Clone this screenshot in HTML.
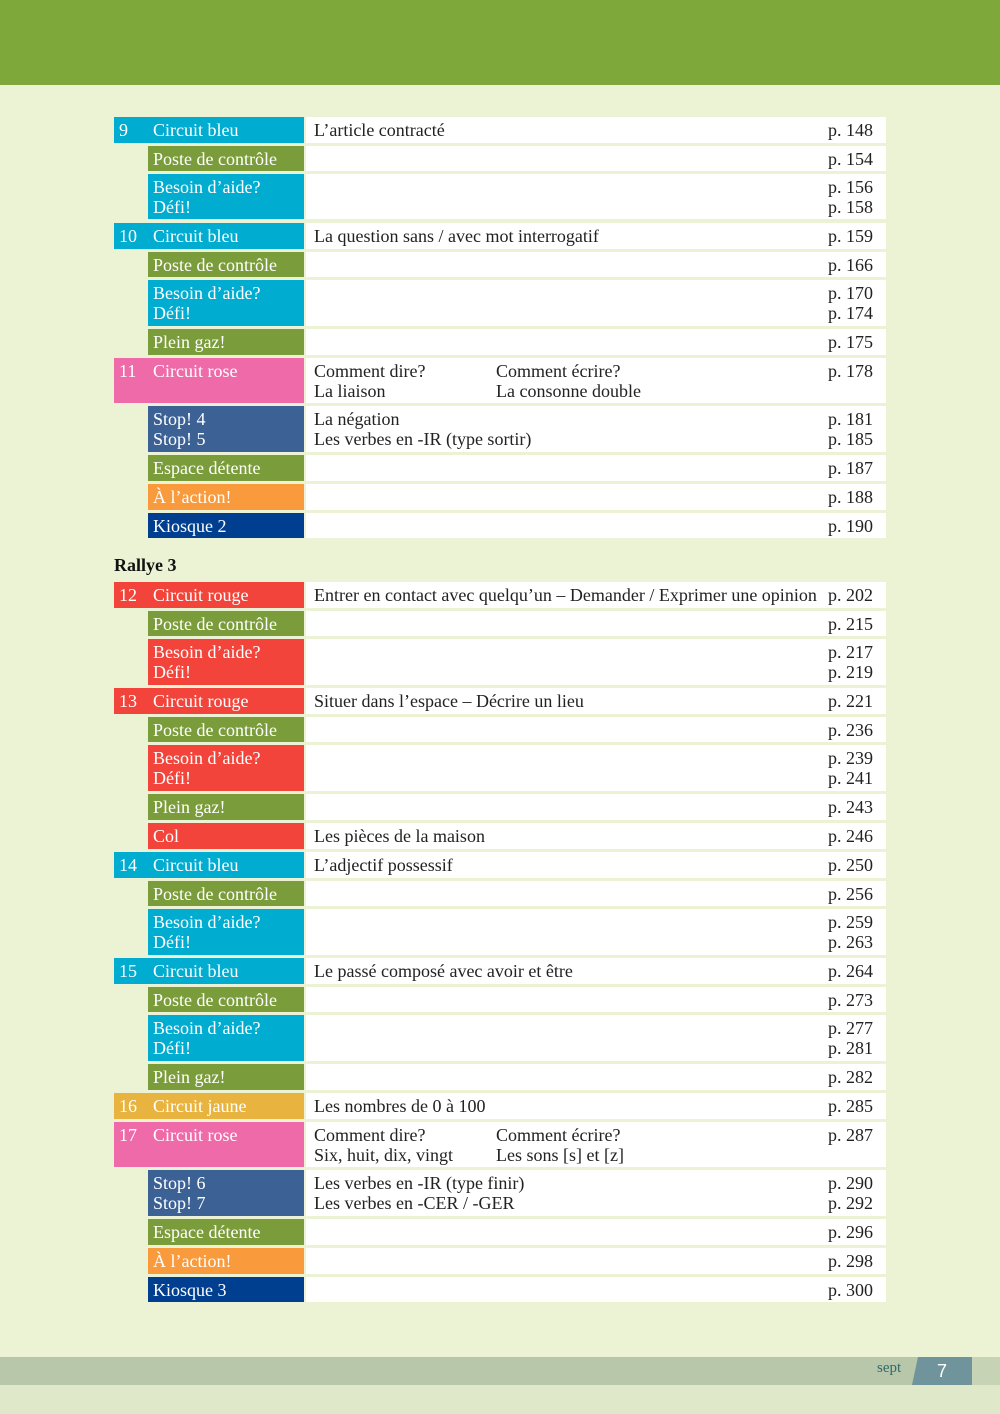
<!DOCTYPE html>
<html><head><meta charset="utf-8"><style>
body{margin:0;width:1000px;height:1414px;background:#ecf3d4;position:relative;overflow:hidden;font-family:"Liberation Serif",serif;font-size:18px;color:#222}
#topbar{position:absolute;left:0;top:0;width:1000px;height:85px;background:#7ea83a}
#bottom{position:absolute;left:0;top:1385px;width:1000px;height:29px;background:#dfe8c8}
.lab{position:absolute;color:#fff;box-sizing:border-box;padding:3px 0 0 5px;line-height:20px}
.num{position:absolute;left:5px;top:3px}
.mid{position:absolute;left:306px;width:580px;background:#fff;box-sizing:border-box;line-height:20px}
.t{position:absolute;left:8px;top:3px}
.t2{position:absolute;left:190px;top:3px}
.pg{position:absolute;left:522px;top:3px}
#rallye{position:absolute;left:114px;top:555px;font-weight:bold;font-size:18px;color:#111}
#footer{position:absolute;left:0;top:1357px;width:1000px;height:28px;background:#b8c7aa}
#sept{position:absolute;left:877px;top:1360px;color:#2f6a6a;font-size:15px}
#pbox{position:absolute;left:912px;top:1357px;width:60px;height:28px;background:#6f949c;clip-path:polygon(6px 0,100% 0,100% 100%,0 100%);color:#fff;font-family:"Liberation Sans",sans-serif;font-size:18px;text-align:center;line-height:28px}
#pright{position:absolute;left:972px;top:1357px;width:28px;height:28px;background:#c6d3b4}
</style></head><body>
<div id="topbar"></div>
<div id="rallye">Rallye 3</div>
<div id="footer"></div>
<div id="bottom"></div>
<div id="pright"></div>
<div id="sept">sept</div>
<div id="pbox">7</div>
<script>
const B='#00acd0',G='#7a9c3a',P='#ef6aa9',S='#3c6194',O='#f99a3c',K='#003f8f',R='#f2443a',Y='#e8b33e';
const rows=[
[117,26,'9','Circuit bleu',B,['L’article contracté'],null,['p. 148']],
[146,25,'','Poste de contrôle',G,[],null,['p. 154']],
[174,45,'','Besoin d’aide?<br>Défi!',B,[],null,['p. 156','p. 158']],
[223,26,'10','Circuit bleu',B,['La question sans / avec mot interrogatif'],null,['p. 159']],
[252,25,'','Poste de contrôle',G,[],null,['p. 166']],
[280,46,'','Besoin d’aide?<br>Défi!',B,[],null,['p. 170','p. 174']],
[329,26,'','Plein gaz!',G,[],null,['p. 175']],
[358,45,'11','Circuit rose',P,['Comment dire?','La liaison'],['Comment écrire?','La consonne double'],['p. 178']],
[406,46,'','Stop! 4<br>Stop! 5',S,['La négation','Les verbes en -IR (type sortir)'],null,['p. 181','p. 185']],
[455,26,'','Espace détente',G,[],null,['p. 187']],
[484,26,'','À l’action!',O,[],null,['p. 188']],
[513,25,'','Kiosque 2',K,[],null,['p. 190']],
[582,26,'12','Circuit rouge',R,['Entrer en contact avec quelqu’un – Demander / Exprimer une opinion'],null,['p. 202']],
[611,25,'','Poste de contrôle',G,[],null,['p. 215']],
[639,46,'','Besoin d’aide?<br>Défi!',R,[],null,['p. 217','p. 219']],
[688,26,'13','Circuit rouge',R,['Situer dans l’espace – Décrire un lieu'],null,['p. 221']],
[717,25,'','Poste de contrôle',G,[],null,['p. 236']],
[745,46,'','Besoin d’aide?<br>Défi!',R,[],null,['p. 239','p. 241']],
[794,26,'','Plein gaz!',G,[],null,['p. 243']],
[823,26,'','Col',R,['Les pièces de la maison'],null,['p. 246']],
[852,26,'14','Circuit bleu',B,['L’adjectif possessif'],null,['p. 250']],
[881,25,'','Poste de contrôle',G,[],null,['p. 256']],
[909,46,'','Besoin d’aide?<br>Défi!',B,[],null,['p. 259','p. 263']],
[958,26,'15','Circuit bleu',B,['Le passé composé avec avoir et être'],null,['p. 264']],
[987,25,'','Poste de contrôle',G,[],null,['p. 273']],
[1015,46,'','Besoin d’aide?<br>Défi!',B,[],null,['p. 277','p. 281']],
[1064,26,'','Plein gaz!',G,[],null,['p. 282']],
[1093,26,'16','Circuit jaune',Y,['Les nombres de 0 à 100'],null,['p. 285']],
[1122,45,'17','Circuit rose',P,['Comment dire?','Six, huit, dix, vingt'],['Comment écrire?','Les sons [s] et [z]'],['p. 287']],
[1170,46,'','Stop! 6<br>Stop! 7',S,['Les verbes en -IR (type finir)','Les verbes en -CER / -GER'],null,['p. 290','p. 292']],
[1219,26,'','Espace détente',G,[],null,['p. 296']],
[1248,26,'','À l’action!',O,[],null,['p. 298']],
[1277,25,'','Kiosque 3',K,[],null,['p. 300']]
];
rows.forEach(r=>{
  const [top,h,num,lab,col,t1,t2,pg]=r;
  const l=document.createElement('div');
  l.className='lab';
  
  
  const left=num?114:148;
  l.style.cssText=`left:${left}px;top:${top}px;width:${304-left}px;height:${h}px;background:${col};padding-left:${num?39:5}px`;
  l.innerHTML=lab;
  if(num){const n=document.createElement('span');n.className='num';
    
    
    n.textContent=num;l.appendChild(n);}
  document.body.appendChild(l);
  const m=document.createElement('div');m.className='mid';
  
  
  m.style.cssText=`top:${top}px;height:${h}px`;
  m.innerHTML=`<div class="t">${t1.join('<br>')}</div>`+(t2?`<div class="t2">${t2.join('<br>')}</div>`:'')+`<div class="pg">${pg.join('<br>')}</div>`;
  document.body.appendChild(m);
});
</script>
</body></html>
